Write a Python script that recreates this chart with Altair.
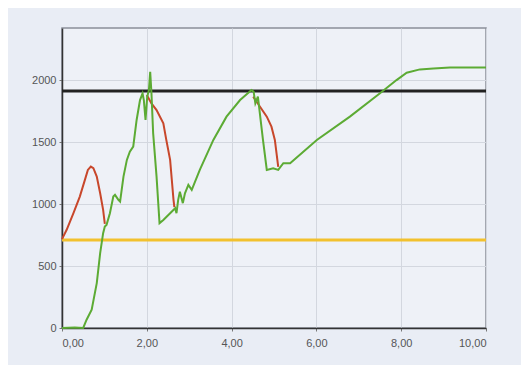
import altair as alt
import pandas as pd

# Green (actual) curve
green_x = [0.00, 0.30, 0.50, 0.58, 0.70, 0.82, 0.90, 0.97, 1.01, 1.05, 1.13, 1.21, 1.25, 1.33, 1.37,
           1.45, 1.53, 1.60, 1.68, 1.76, 1.84, 1.90, 1.93, 1.97, 2.01, 2.05, 2.08, 2.11, 2.15, 2.23,
           2.30, 2.39, 2.55, 2.67, 2.70, 2.74, 2.78, 2.85, 2.90, 2.98, 3.06, 3.25, 3.57, 3.88, 4.20,
           4.47, 4.52, 4.56, 4.62, 4.74, 4.83, 4.98, 5.10, 5.22, 5.38, 6.01, 6.79, 7.50, 7.89, 8.13,
           8.44, 8.76, 9.15, 10.00]
green_y = [0, 5, 0, 67, 148, 362, 604, 765, 819, 832, 926, 1060, 1074, 1034, 1020,
           1221, 1356, 1423, 1463, 1678, 1839, 1893, 1839, 1678, 1866, 1919, 2067, 1893, 1570, 1221,
           846, 872, 926, 966, 926, 1034, 1100, 1007, 1087, 1154, 1114, 1275, 1517, 1705, 1839,
           1919, 1906, 1812, 1866, 1517, 1275, 1289, 1275, 1329, 1329, 1517, 1705, 1893, 2000, 2059,
           2086, 2094, 2102, 2102]

# Red (target) segments
red1_x = [0.00, 0.11, 0.27, 0.42, 0.54, 0.61, 0.68, 0.74, 0.82, 0.90, 0.97, 1.01]
red1_y = [717, 792, 926, 1060, 1195, 1275, 1302, 1289, 1222, 1087, 953, 840]
red2_x = [2.00, 2.11, 2.23, 2.39, 2.46, 2.55, 2.59, 2.63, 2.65]
red2_y = [1879, 1812, 1758, 1651, 1517, 1356, 1195, 1034, 975]
red3_x = [4.51, 4.67, 4.83, 4.94, 5.02, 5.06, 5.10]
red3_y = [1866, 1785, 1705, 1624, 1517, 1409, 1300]

# Horizontal limits
limit_values = [1911, 710]
limit_names = ["max", "min"]
limit_colors = ["#222222", "#f2c12e"]

x_ticks = [0, 2, 4, 6, 8, 10]
y_ticks = [0, 500, 1000, 1500, 2000]

rows = []
for i, (x, y) in enumerate(zip(green_x, green_y)):
    rows.append({"x": x, "y": y, "seg": "g", "o": i})
green_df = pd.DataFrame(rows)

rows = []
for name, xs, ys in [("r1", red1_x, red1_y), ("r2", red2_x, red2_y), ("r3", red3_x, red3_y)]:
    for i, (x, y) in enumerate(zip(xs, ys)):
        rows.append({"x": x, "y": y, "seg": name, "o": i})
red_df = pd.DataFrame(rows)

lim_df = pd.DataFrame({"y": limit_values, "name": limit_names})

xscale = alt.Scale(domain=[0, 10], nice=False, zero=False)
yscale = alt.Scale(domain=[0, 2420], nice=False)

xaxis = alt.Axis(values=x_ticks, title=None, grid=True, gridColor="#d3d7df",
                 labelExpr="replace(format(datum.value, '.2f'), '.', ',')",
                 domainColor="#333333", domainWidth=1.5, tickColor="#777777", tickSize=3,
                 labelColor="#555555", labelFont="Liberation Sans", labelFontSize=11,
                 labelPadding=6)
yaxis = alt.Axis(values=y_ticks, title=None, grid=True, gridColor="#d3d7df", format="d",
                 domainColor="#333333", domainWidth=1.5, tickColor="#777777", tickSize=3,
                 labelColor="#555555", labelFont="Liberation Sans", labelFontSize=11,
                 labelPadding=3)

base_axes = alt.Chart(green_df).mark_line(opacity=0).encode(
    x=alt.X("x:Q", scale=xscale, axis=xaxis),
    y=alt.Y("y:Q", scale=yscale, axis=yaxis),
)

limits = alt.Chart(lim_df).mark_rule(strokeWidth=3).encode(
    y=alt.Y("y:Q", scale=yscale),
    color=alt.Color("name:N", scale=alt.Scale(domain=limit_names, range=limit_colors), legend=None),
)

red = alt.Chart(red_df).mark_line(strokeWidth=2, color="#c8472b").encode(
    x=alt.X("x:Q", scale=xscale),
    y=alt.Y("y:Q", scale=yscale),
    detail="seg:N",
    order="o:Q",
)

green = alt.Chart(green_df).mark_line(strokeWidth=2, color="#5cab34").encode(
    x=alt.X("x:Q", scale=xscale),
    y=alt.Y("y:Q", scale=yscale),
    order="o:Q",
)

chart = alt.layer(base_axes, limits, red, green).properties(
    width=424, height=300,
    autosize=alt.AutoSizeParams(type="none"),
    padding={"left": 54, "top": 20, "right": 35, "bottom": 37},
    background="#e9edf5",
).configure_view(
    fill="#eef1f7", stroke="#8a8f99", strokeWidth=1.5,
)

chart.save("out.html", embed_options={"renderer": "svg", "actions": False})
